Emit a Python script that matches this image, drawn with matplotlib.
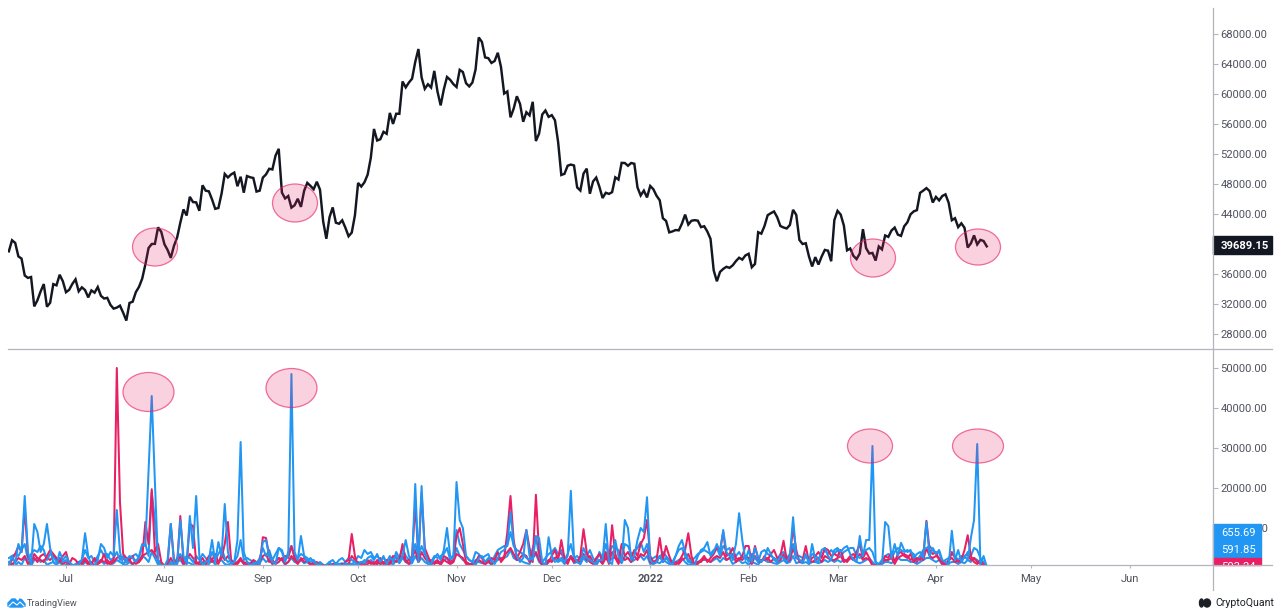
"""
BTC price against exchange inflow spikes, TradingView style two panel chart.
"""

import matplotlib
matplotlib.use('Agg')
import matplotlib.dates as mdates
import matplotlib.pyplot as plt
import numpy as np
import pandas as pd
from matplotlib.lines import Line2D
from matplotlib.patches import Ellipse, Polygon, Rectangle

# Data
# ----------------------------------------------------------------------------

start_date = '2021-06-13'

# Daily price, ten values per row
price = [
    39020, 40500, 40150, 38350, 38050, 35800, 35480, 35600, 31680, 32500,
    33670, 34660, 31640, 32160, 34650, 34490, 35900, 35040, 33570, 33890,
    34680, 35290, 33690, 34220, 33860, 32880, 33810, 33510, 34260, 33090,
    32730, 32820, 31880, 31380, 31520, 31780, 30840, 29790, 32140, 32310,
    33580, 34290, 35380, 37280, 39460, 40000, 40020, 42220, 41630, 39970,
    39200, 38150, 39750, 40870, 42830, 44610, 43800, 46290, 45590, 45550,
    44430, 47830, 47110, 47020, 45940, 44690, 44800, 46720, 49340, 48870,
    49280, 49520, 47700, 48970, 46840, 49060, 48900, 48800, 46990, 47110,
    48850, 49280, 50030, 49940, 51790, 52690, 46860, 46070, 46400, 44850,
    45170, 46030, 44950, 47090, 48150, 47750, 47300, 48300, 47250, 43010,
    40700, 43570, 44880, 42840, 42700, 43160, 42170, 41030, 41520, 43820,
    48140, 47660, 48230, 49240, 51490, 55340, 53800, 53970, 54960, 54690,
    57480, 56010, 57370, 57360, 61670, 60880, 61530, 62040, 64280, 66000,
    62210, 60690, 61300, 60860, 63080, 60330, 58480, 60620, 62270, 61890,
    61320, 60930, 63220, 62930, 61440, 61010, 61530, 63270, 67540, 66940,
    64880, 64780, 64140, 64400, 65500, 63610, 60060, 60340, 56890, 58050,
    59700, 58680, 56300, 57570, 57150, 58960, 53730, 54720, 57270, 57800,
    56950, 57180, 56500, 53600, 49200, 49360, 50440, 50590, 50470, 47540,
    47130, 49390, 50050, 46700, 48340, 48860, 47630, 46130, 46830, 46680,
    46910, 48890, 48590, 50820, 50800, 50430, 50800, 50700, 47540, 46470,
    47120, 46210, 47740, 47300, 46430, 45830, 43430, 43080, 41550, 41680,
    41860, 41820, 42730, 43920, 42590, 43100, 43180, 43110, 42250, 42370,
    41660, 40680, 36480, 35030, 36280, 36680, 36960, 36820, 37160, 37720,
    38170, 37920, 38480, 38700, 36900, 37340, 41570, 41380, 42400, 43840,
    44110, 44340, 43570, 42400, 42200, 42070, 42540, 44560, 43880, 40530,
    40000, 40100, 38350, 37000, 38250, 37260, 38330, 39210, 39110, 37700,
    43190, 44420, 43920, 42450, 39150, 39400, 38420, 37990, 38730, 41980,
    39440, 38730, 38810, 37790, 39670, 39280, 41140, 40950, 41800, 42190,
    41250, 41080, 42360, 42890, 43960, 44350, 44510, 46820, 47120, 47450,
    47060, 45530, 46280, 45810, 46400, 46620, 45500, 43170, 43440, 42250,
    42760, 42160, 39530, 40080, 41150, 39940, 40550, 40400, 39689.15,
]

# Lower panel series, in hundreds, ten values per row
blue_a = [
    5, 30, 12, 60, 40, 180, 40, 8, 110, 90,
    40, 60, 110, 50, 15, 8, 40, 20, 30, 15,
    8, 5, 10, 20, 87, 30, 8, 5, 20, 60,
    50, 25, 40, 30, 145, 40, 8, 20, 30, 25,
    15, 30, 60, 55, 240, 430, 215, 10, 8, 5,
    20, 110, 15, 8, 120, 30, 10, 130, 50, 180,
    30, 8, 15, 20, 70, 15, 65, 30, 160, 40,
    10, 15, 70, 315, 40, 15, 8, 10, 15, 10,
    65, 70, 30, 15, 10, 50, 45, 20, 30, 485,
    40, 20, 80, 30, 15, 25, 15, 10, 8, 5,
    8, 15, 5, 8, 10, 5, 12, 8, 10, 15,
    8, 15, 12, 25, 30, 20, 35, 15, 30, 10,
    25, 20, 30, 15, 30, 70, 30, 15, 210, 15,
    205, 40, 15, 10, 25, 35, 20, 45, 100, 30,
    25, 215, 120, 100, 30, 20, 15, 8, 25, 30,
    15, 25, 20, 10, 25, 40, 45, 60, 140, 60,
    30, 15, 25, 95, 30, 20, 80, 75, 15, 5,
    77, 30, 15, 20, 25, 15, 30, 193, 30, 15,
    10, 30, 25, 20, 15, 8, 20, 20, 110, 15,
    10, 70, 30, 15, 120, 100, 20, 30, 70, 100,
    90, 177, 20, 10, 15, 30, 15, 25, 15, 8,
    30, 55, 70, 40, 20, 10, 8, 30, 45, 50,
    65, 30, 40, 60, 40, 95, 40, 30, 25, 60,
    137, 70, 20, 45, 15, 50, 25, 15, 25, 50,
    35, 20, 15, 30, 25, 15, 30, 127, 30, 20,
    15, 35, 10, 60, 20, 15, 45, 50, 30, 20,
    45, 50, 40, 50, 55, 35, 20, 15, 80, 30,
    70, 70, 305, 15, 5, 8, 115, 105, 25, 60,
    30, 63, 45, 40, 45, 25, 35, 40, 25, 115,
    30, 50, 35, 45, 20, 15, 8, 93, 20, 45,
    15, 30, 20, 75, 120, 310, 10, 30, 3,
]
blue_b = [
    25, 30, 35, 30, 45, 60, 20, 35, 45, 40,
    55, 45, 20, 35, 30, 15, 25, 15, 20, 8,
    5, 10, 15, 20, 45, 25, 30, 15, 30, 45,
    30, 35, 20, 25, 40, 20, 30, 15, 25, 30,
    35, 25, 55, 60, 30, 190, 120, 20, 10, 5,
    8, 15, 10, 25, 35, 20, 30, 25, 15, 30,
    20, 35, 25, 15, 40, 20, 35, 50, 25, 15,
    20, 15, 30, 70, 20, 25, 20, 15, 10, 25,
    50, 30, 45, 20, 35, 50, 40, 15, 40, 55,
    30, 25, 35, 30, 25, 15, 20, 10, 15, 8,
    5, 15, 20, 10, 20, 25, 15, 25, 20, 15,
    30, 25, 45, 35, 40, 25, 30, 20, 25, 15,
    30, 15, 40, 25, 50, 30, 20, 25, 60, 30,
    55, 35, 20, 15, 30, 25, 30, 35, 50, 20,
    30, 95, 60, 45, 30, 20, 15, 40, 35, 25,
    30, 35, 15, 30, 45, 50, 55, 55, 90, 55,
    45, 40, 35, 25, 20, 50, 78, 30, 15, 25,
    35, 40, 50, 35, 45, 20, 35, 60, 25, 30,
    20, 50, 30, 45, 25, 15, 40, 25, 60, 30,
    55, 50, 45, 25, 60, 55, 35, 40, 50, 65,
    40, 60, 20, 25, 30, 25, 40, 30, 20, 15,
    30, 45, 50, 30, 15, 20, 25, 35, 40, 45,
    40, 35, 45, 50, 30, 55, 45, 50, 20, 30,
    40, 25, 30, 15, 35, 25, 15, 40, 45, 35,
    30, 25, 20, 35, 40, 25, 35, 60, 25, 30,
    25, 30, 20, 35, 30, 25, 30, 45, 35, 45,
    35, 45, 30, 40, 45, 50, 50, 30, 25, 35,
    45, 50, 40, 15, 10, 20, 30, 35, 25, 40,
    50, 45, 40, 45, 40, 35, 20, 30, 45, 50,
    55, 45, 35, 40, 15, 20, 25, 35, 30, 20,
    30, 25, 40, 30, 50, 45, 25, 15, 6,
]
blue_c = [
    15, 10, 5, 15, 8, 25, 15, 5, 20, 25,
    15, 20, 8, 12, 15, 8, 15, 5, 8, 5,
    3, 5, 8, 5, 15, 10, 5, 8, 15, 20,
    10, 15, 8, 12, 20, 15, 10, 8, 15, 8,
    20, 15, 30, 25, 15, 40, 25, 8, 5, 3,
    3, 10, 8, 15, 20, 8, 15, 12, 8, 15,
    10, 15, 8, 10, 20, 8, 15, 20, 10, 8,
    12, 8, 15, 20, 10, 8, 12, 8, 5, 12,
    25, 15, 20, 10, 15, 25, 20, 8, 15, 25,
    15, 12, 20, 12, 15, 8, 10, 5, 8, 3,
    3, 8, 10, 5, 10, 12, 8, 12, 10, 8,
    15, 12, 20, 15, 20, 12, 15, 10, 12, 8,
    15, 8, 20, 12, 25, 15, 10, 12, 30, 15,
    25, 15, 10, 8, 15, 12, 15, 20, 25, 10,
    15, 50, 30, 20, 15, 10, 8, 20, 15, 12,
    15, 15, 8, 15, 20, 25, 25, 30, 45, 25,
    20, 20, 15, 12, 10, 25, 35, 15, 8, 10,
    15, 20, 25, 15, 20, 10, 15, 30, 12, 15,
    10, 25, 15, 20, 12, 8, 20, 12, 30, 15,
    25, 25, 20, 12, 30, 25, 15, 20, 25, 30,
    20, 30, 10, 12, 15, 12, 20, 15, 10, 8,
    15, 20, 25, 15, 8, 10, 12, 15, 20, 20,
    20, 15, 20, 25, 15, 25, 20, 25, 10, 15,
    20, 12, 15, 8, 15, 12, 8, 20, 20, 15,
    15, 12, 10, 15, 20, 12, 15, 30, 12, 15,
    12, 15, 10, 15, 15, 12, 15, 20, 15, 20,
    15, 20, 15, 20, 20, 25, 25, 15, 12, 15,
    20, 25, 15, 8, 5, 10, 15, 15, 12, 20,
    25, 20, 20, 20, 15, 15, 10, 15, 20, 25,
    25, 20, 15, 20, 8, 10, 12, 15, 15, 10,
    15, 12, 20, 15, 25, 20, 12, 8, 3,
]
pink_a = [
    8, 20, 35, 55, 40, 150, 30, 10, 35, 25,
    20, 15, 30, 45, 35, 25, 15, 30, 40, 10,
    25, 20, 10, 15, 25, 15, 10, 25, 10, 15,
    35, 10, 15, 20, 500, 165, 35, 25, 20, 30,
    10, 15, 25, 115, 60, 197, 40, 60, 15, 5,
    10, 110, 20, 10, 130, 15, 10, 110, 105, 15,
    8, 10, 15, 30, 20, 35, 15, 25, 60, 115,
    20, 10, 15, 25, 10, 15, 10, 20, 15, 10,
    77, 75, 30, 10, 15, 25, 20, 30, 25, 55,
    25, 15, 20, 25, 15, 10, 8, 15, 5, 8,
    5, 8, 5, 5, 6, 5, 15, 20, 85, 30,
    5, 10, 8, 20, 10, 15, 8, 25, 10, 20,
    15, 30, 25, 20, 60, 15, 20, 30, 160, 25,
    187, 50, 30, 10, 15, 20, 10, 30, 25, 15,
    20, 80, 100, 60, 15, 10, 8, 15, 30, 25,
    10, 15, 25, 20, 40, 15, 25, 90, 180, 70,
    25, 40, 60, 95, 50, 15, 183, 40, 10, 5,
    15, 30, 45, 20, 70, 25, 10, 30, 20, 15,
    30, 97, 40, 15, 10, 25, 35, 15, 40, 10,
    107, 35, 15, 60, 30, 40, 25, 45, 30, 60,
    75, 120, 30, 15, 20, 75, 20, 55, 30, 10,
    8, 15, 30, 45, 87, 30, 8, 10, 20, 30,
    15, 25, 35, 50, 45, 90, 30, 35, 50, 25,
    20, 30, 55, 55, 15, 55, 25, 15, 30, 20,
    35, 45, 25, 30, 68, 20, 30, 100, 45, 15,
    20, 55, 15, 25, 30, 40, 25, 50, 45, 30,
    35, 30, 45, 20, 15, 25, 20, 40, 60, 25,
    40, 25, 5, 8, 5, 10, 30, 25, 40, 15,
    35, 40, 30, 25, 35, 15, 25, 20, 30, 118,
    45, 35, 40, 20, 15, 10, 15, 40, 25, 15,
    20, 45, 82, 30, 15, 10, 20, 8, 5,
]
pink_b = [
    5, 10, 15, 25, 20, 30, 10, 20, 25, 15,
    30, 35, 25, 20, 30, 20, 25, 10, 15, 5,
    8, 5, 15, 10, 20, 8, 15, 5, 10, 20,
    15, 20, 10, 15, 25, 30, 25, 15, 20, 10,
    15, 20, 30, 35, 40, 45, 35, 20, 8, 3,
    8, 25, 10, 15, 30, 10, 20, 35, 25, 10,
    15, 25, 10, 20, 15, 20, 10, 35, 20, 30,
    15, 8, 10, 20, 15, 8, 10, 15, 8, 15,
    30, 35, 15, 20, 10, 15, 25, 10, 15, 30,
    20, 10, 25, 15, 20, 8, 15, 5, 10, 3,
    8, 5, 10, 12, 5, 10, 8, 10, 30, 20,
    10, 15, 5, 10, 15, 8, 20, 10, 15, 10,
    10, 20, 15, 25, 30, 20, 10, 25, 45, 15,
    40, 25, 15, 20, 10, 15, 8, 20, 15, 10,
    15, 35, 30, 25, 10, 8, 12, 10, 20, 15,
    8, 20, 10, 15, 25, 20, 30, 40, 50, 35,
    20, 25, 35, 30, 15, 25, 40, 20, 8, 12,
    20, 15, 25, 30, 40, 15, 20, 25, 15, 20,
    15, 35, 20, 30, 15, 10, 20, 10, 25, 15,
    40, 25, 10, 30, 20, 25, 15, 30, 20, 35,
    30, 45, 15, 10, 15, 30, 15, 25, 20, 8,
    15, 10, 20, 25, 35, 15, 10, 15, 15, 25,
    20, 15, 25, 30, 25, 40, 20, 25, 35, 15,
    25, 20, 30, 25, 10, 30, 15, 20, 20, 25,
    15, 25, 15, 20, 35, 15, 20, 50, 25, 20,
    15, 30, 20, 15, 20, 25, 15, 30, 25, 20,
    20, 25, 30, 15, 20, 30, 35, 25, 35, 20,
    25, 20, 8, 5, 8, 15, 20, 20, 25, 10,
    25, 30, 35, 30, 20, 25, 15, 30, 20, 50,
    30, 25, 30, 25, 10, 8, 20, 25, 15, 20,
    15, 30, 35, 20, 25, 15, 10, 5, 5,
]

price_ticks = list(range(28000, 68001, 4000))
flow_ticks = [10000, 20000, 30000, 40000, 50000]
month_ticks = ['2021-07-01', '2021-08-01', '2021-09-01', '2021-10-01',
               '2021-11-01', '2021-12-01', '2022-01-01', '2022-02-01',
               '2022-03-01', '2022-04-01', '2022-05-01', '2022-06-01']
month_labels = ['Jul', 'Aug', 'Sep', 'Oct', 'Nov', 'Dec', '2022', 'Feb',
                'Mar', 'Apr', 'May', 'Jun']

# Styles
# ----------------------------------------------------------------------------

W, H = 1280, 614
BLUE = '#2196f3'
PINK = '#e91e63'
DARK = '#131722'
GREY = '#b2b5be'
TEXT = '#50535e'

plt.rcParams['font.family'] = ['Roboto', 'DejaVu Sans']


def fx(x):
    return x / W


def fy(y):
    return 1 - y / H


# Plot
# ----------------------------------------------------------------------------

fig = plt.figure(figsize=(W / 100, H / 100), dpi=100, facecolor='white')
ax1 = fig.add_axes([fx(8), fy(349), fx(1205), (349 - 8) / H])
ax2 = fig.add_axes([fx(8), fy(565), fx(1205), (565 - 349) / H])

dates = pd.date_range(start_date, periods=len(price))

ax1.plot(dates, price, color=DARK, lw=1.75, solid_joinstyle='miter')
ax1.set_ylim(26000, 71467)

series = [(blue_c, BLUE), (pink_b, PINK), (blue_b, BLUE), (pink_a, PINK), (blue_a, BLUE)]
for values, color in series:
    ax2.plot(dates[:len(values)], np.array(values) * 100, color=color, lw=1.45)
ax2.set_ylim(750, 54750)

# One day is 3.175 px, July 1st sits at x = 66 px
jul1 = mdates.date2num(pd.Timestamp('2021-07-01'))
xlim = (jul1 - 58 / 3.175, jul1 + (1213 - 66) / 3.175)

for ax, ticks in ((ax1, price_ticks), (ax2, flow_ticks)):
    ax.set_xlim(xlim)
    ax.set_frame_on(False)
    ax.patch.set_alpha(0)
    ax.yaxis.tick_right()
    ax.set_yticks(ticks)
    ax.set_yticklabels([f'{t:.2f}' for t in ticks])
    ax.tick_params(axis='y', length=3.5, width=0.8, color=GREY, pad=2,
                   labelsize=8.1, labelcolor=TEXT)

ax1.set_xticks([])
ax2.set_xticks(mdates.date2num(pd.to_datetime(month_ticks)))
ax2.set_xticklabels(month_labels)
ax2.tick_params(axis='x', length=2.5, width=0.8, color=GREY, pad=4,
                labelsize=8.1, labelcolor=TEXT)
for label in ax2.get_xticklabels():
    if label.get_text() == '2022':
        label.set_fontweight('bold')

# Panel frame lines
for (x0, y0, x1, y1) in [(8, 349, 1272, 349), (8, 565, 1272, 565), (1213, 8, 1213, 590)]:
    fig.add_artist(Line2D([fx(x0), fx(x1)], [fy(y0), fy(y1)], color=GREY, lw=0.9))

# Highlight ellipses (centre x, centre y, width, height in px)
marks = [(155, 247, 45, 38), (295, 203, 45, 38), (873, 258, 45, 38), (978, 247, 45, 36),
         (148.5, 392, 51, 39), (291.5, 388, 51, 39), (870, 446, 45, 34), (978, 446, 51, 34)]
for cx, cy, w, h in marks:
    fig.add_artist(Ellipse((fx(cx), fy(cy)), w / W, h / H, facecolor=PINK + '33',
                           edgecolor=PINK + 'a0', lw=0.9, transform=fig.transFigure))

# Last value labels
fig.add_artist(Rectangle((fx(1213), fy(254)), 59 / W, 18 / H, color=DARK, transform=fig.transFigure))
fig.text(fx(1221), fy(245.5), '39689.15', color='white', fontsize=8.1, fontweight='bold', va='center')

fig.add_artist(Rectangle((fx(1213), fy(558)), 48 / W, 34 / H, color=BLUE, transform=fig.transFigure))
pink_box = Rectangle((fx(1213), fy(565)), 48 / W, 7 / H, color=PINK, transform=fig.transFigure)
fig.add_artist(pink_box)
fig.text(fx(1221), fy(533), '655.69', color='white', fontsize=8.1, va='center')
fig.text(fx(1221), fy(550), '591.85', color='white', fontsize=8.1, va='center')
low_label = fig.text(fx(1221), fy(567), '503.24', color='white', fontsize=8.1, va='center')
low_label.set_clip_path(pink_box)
low_label.set_clip_on(True)

# Footer logos
cloud = [(8, 606), (8, 603), (12, 599), (15, 599), (18, 602), (20, 599), (22, 600),
         (25, 604), (25, 606), (22, 607), (10, 607)]
fig.add_artist(Polygon([(fx(x), fy(y)) for x, y in cloud], closed=True, color=BLUE,
                       transform=fig.transFigure))
fig.add_artist(Line2D([fx(9), fx(13), fx(17), fx(20), fx(24)], [fy(606), fy(602), fy(605), fy(602), fy(606)],
                      color='white', lw=0.8))
fig.text(fx(27), fy(603), 'TradingView', color=TEXT, fontsize=6.6, va='center')

fig.add_artist(Ellipse((fx(1201.5), fy(603)), 4 / W, 8 / H, color='#1c1f26', transform=fig.transFigure))
fig.add_artist(Ellipse((fx(1207), fy(603)), 7 / W, 8 / H, color='#1c1f26', transform=fig.transFigure))
fig.text(fx(1215), fy(603), 'CryptoQuant', color='#1c1f26', fontsize=7.6, va='center')

fig.savefig('out.png', dpi=100)
